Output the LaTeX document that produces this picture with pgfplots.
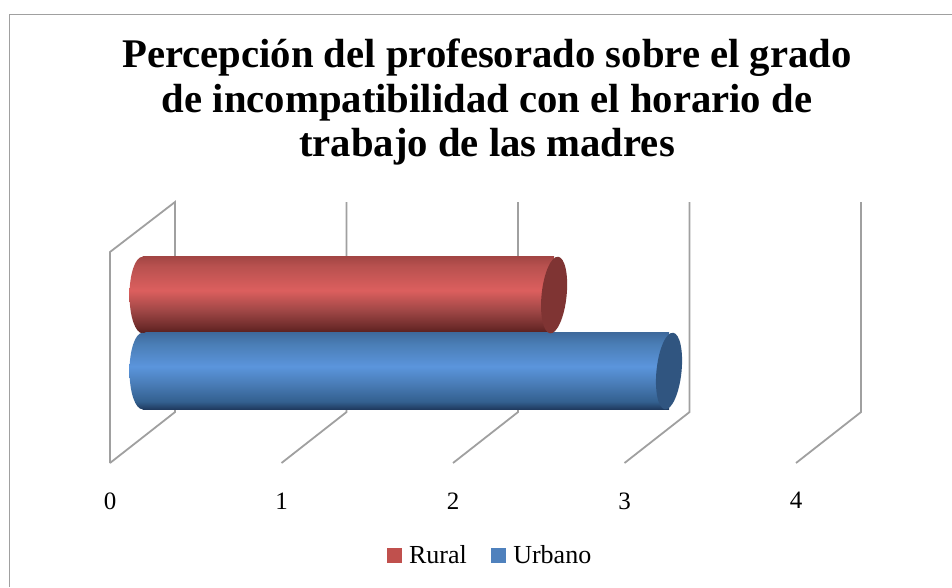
\documentclass[border=0pt]{standalone}
\usepackage{pgfplots}
\pgfplotsset{compat=1.18}
\usepackage{fontspec}
\setmainfont{Liberation Serif}
\definecolor{legr}{HTML}{C0504D}
\definecolor{legb}{HTML}{4F81BD}
\definecolor{capr}{HTML}{7F3433}
\definecolor{capb}{HTML}{305580}
\definecolor{gridc}{HTML}{A0A0A0}
\definecolor{r0}{HTML}{551E1E}\definecolor{r1}{HTML}{6E2B2A}\definecolor{r2}{HTML}{A04746}
\definecolor{r3}{HTML}{DC5F5E}\definecolor{r4}{HTML}{B8514F}\definecolor{r5}{HTML}{A34644}
\definecolor{b0}{HTML}{1F3A5E}\definecolor{b1}{HTML}{33608F}\definecolor{b2}{HTML}{4A7DB8}
\definecolor{b3}{HTML}{5B95DC}\definecolor{b4}{HTML}{4A7DB5}\definecolor{b5}{HTML}{3F6A9D}
\pgfdeclareverticalshading{ruralcyl}{100bp}{color(0bp)=(r0);color(25bp)=(r0);color(29bp)=(r1);color(40bp)=(r2);color(53bp)=(r3);color(69bp)=(r4);color(75bp)=(r5);color(100bp)=(r5)}
\pgfdeclareverticalshading{urbancyl}{100bp}{color(0bp)=(b0);color(25bp)=(b0);color(30bp)=(b1);color(42bp)=(b2);color(53bp)=(b3);color(68bp)=(b4);color(75bp)=(b5);color(100bp)=(b5)}
\pgfdeclareplotmark{rurallow}{\pgfpathellipse{\pgfpointorigin}{\pgfpoint{13pt}{0pt}}{\pgfpoint{0pt}{38.25pt}}\pgfshadepath{ruralcyl}{0}\pgfusepath{discard}}
\pgfdeclareplotmark{urbanlow}{\pgfpathellipse{\pgfpointorigin}{\pgfpoint{13pt}{0pt}}{\pgfpoint{0pt}{38.25pt}}\pgfshadepath{urbancyl}{0}\pgfusepath{discard}}
\pgfdeclareplotmark{ruralcap}{\pgfsetfillcolor{capr}\pgfpathellipse{\pgfpointorigin}{\pgfpoint{12.43pt}{-1.31pt}}{\pgfpoint{4.02pt}{38.29pt}}\pgfusepath{fill}}
\pgfdeclareplotmark{urbancap}{\pgfsetfillcolor{capb}\pgfpathellipse{\pgfpointorigin}{\pgfpoint{12.43pt}{-1.31pt}}{\pgfpoint{4.02pt}{38.29pt}}\pgfusepath{fill}}
\begin{document}
\begin{tikzpicture}
\useasboundingbox (0,0) rectangle (952pt,587pt);
\fill[white] (0,0) rectangle (952pt,587pt);
\draw[gridc,line width=1.6pt] (9.5pt,0) -- (9.5pt,572.5pt) -- (952pt,572.5pt);
\begin{axis}[
  at={(110pt,124pt)},anchor=south west,
  scale only axis,width=752pt,height=261pt,
  xmin=-0.1895,xmax=4.1953,ymin=-1.21,ymax=2.224,
  clip=false,
  axis line style={draw=none},
  major tick length=0pt,
  ytick=\empty,
  xtick={-0.1895,0.8105,1.8105,2.8105,3.8105},
  xticklabels={0,1,2,3,4},
  xticklabel style={font=\fontsize{25}{30}\selectfont,yshift=-26pt},
  unbounded coords=jump,
  legend style={at={(0.504,-0.352)},anchor=center,draw=none,fill=none,
    legend columns=2,font=\fontsize{26}{30}\selectfont,
    /tikz/every odd column/.append style={column sep=8pt},
    /tikz/every even column/.append style={column sep=24pt},
    inner sep=0pt,nodes={inner sep=0pt,anchor=west}},
  legend cell align=left,
  legend image code/.code={\fill[#1] (0pt,-7pt) rectangle (14pt,7pt);},
]
% walls and grid: front foot, back foot, back top
\addplot[gridc,line width=1.8pt,forget plot] coordinates {
 (-0.1895,-1.21) (0.1895,-0.54) (0.1895,2.224) (-0.1895,1.566) (-0.1895,-1.21) (nan,nan)
 (0.8105,-1.21) (1.1895,-0.54) (1.1895,2.224) (nan,nan)
 (1.8105,-1.21) (2.1895,-0.54) (2.1895,2.224) (nan,nan)
 (2.8105,-1.21) (3.1895,-0.54) (3.1895,2.224) (nan,nan)
 (3.8105,-1.21) (4.1895,-0.54) (4.1895,2.224)
};
\addplot[only marks,mark=rurallow,forget plot] coordinates {(0,1)};
\addplot[only marks,mark=urbanlow,forget plot] coordinates {(0,0)};
\addplot[xbar,bar width=76.5pt,bar shift=0pt,draw=none,shading=ruralcyl,forget plot] coordinates {(2.40,1)};
\addplot[only marks,mark=ruralcap,forget plot] coordinates {(2.40,1)};
\addplot[xbar,bar width=76.5pt,bar shift=0pt,draw=none,shading=urbancyl,forget plot] coordinates {(3.07,0)};
\addplot[only marks,mark=urbancap,forget plot] coordinates {(3.07,0)};
\addlegendimage{legr}
\addlegendentry{Rural}
\addlegendimage{legb}
\addlegendentry{Urbano}
\end{axis}
\node[align=center,font=\fontsize{40.7}{44.5}\selectfont\bfseries,anchor=north,inner sep=0pt] at (487pt,548pt)
 {Percepción del profesorado sobre el grado\\de incompatibilidad con el horario de\\trabajo de las madres};
\end{tikzpicture}
\end{document}
